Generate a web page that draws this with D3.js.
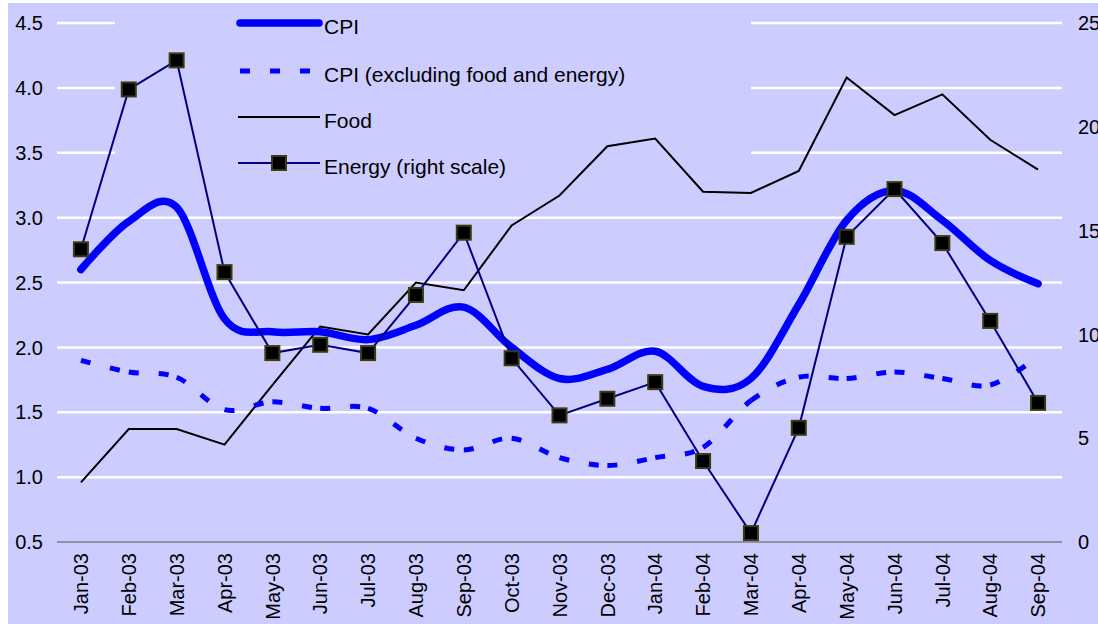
<!DOCTYPE html>
<html>
<head>
<meta charset="utf-8">
<script src="https://cdn.jsdelivr.net/npm/d3@7"></script>
<style>
  html, body { margin: 0; padding: 0; background: #ffffff; }
  svg { display: block; }
  text { font-family: "Liberation Sans", Arial, sans-serif; fill: #000; }
</style>
</head>
<body>
<svg id="chart" width="1098" height="624"></svg>
<script>
const months = ["Jan-03","Feb-03","Mar-03","Apr-03","May-03","Jun-03","Jul-03","Aug-03","Sep-03","Oct-03","Nov-03","Dec-03",
                "Jan-04","Feb-04","Mar-04","Apr-04","May-04","Jun-04","Jul-04","Aug-04","Sep-04"];
const cpi    = [2.60, 2.97, 3.08, 2.22, 2.12, 2.12, 2.06, 2.17, 2.31, 2.00, 1.76, 1.83, 1.97, 1.70, 1.76, 2.33, 2.98, 3.21, 2.98, 2.67, 2.49];
const core   = [1.90, 1.81, 1.77, 1.52, 1.58, 1.53, 1.53, 1.30, 1.21, 1.30, 1.15, 1.09, 1.15, 1.23, 1.59, 1.77, 1.76, 1.81, 1.76, 1.71, 1.93];
const food   = [0.96, 1.37, 1.37, 1.25, 1.71, 2.16, 2.10, 2.50, 2.44, 2.94, 3.17, 3.55, 3.61, 3.20, 3.19, 3.36, 4.08, 3.79, 3.95, 3.60, 3.37];
const energy = [14.1, 21.8, 23.2, 13.0, 9.1, 9.5, 9.1, 11.9, 14.9, 8.85, 6.1, 6.9, 7.7, 3.9, 0.43, 5.5, 14.7, 17.0, 14.4, 10.65, 6.7];
const leftTicks  = [0.5, 1.0, 1.5, 2.0, 2.5, 3.0, 3.5, 4.0, 4.5];
const rightTicks = [0, 5, 10, 15, 20, 25];
const legendLabels = ["CPI", "CPI (excluding food and energy)", "Food", "Energy (right scale)"];

const svg = d3.select("#chart");
const FONT = 20;

// background
svg.append("rect").attr("x", 8).attr("y", 3).attr("width", 1090).attr("height", 621).attr("fill", "#ccccff");

const x = d3.scaleBand().domain(months).range([57, 1062]);
const cx = d => x(d) + x.bandwidth() / 2;
const yL = d3.scaleLinear().domain([0.5, 4.5]).range([542, 23]);
const yR = d3.scaleLinear().domain([0, 25]).range([542, 23]);

// gridlines
svg.append("g").selectAll("line").data(leftTicks.filter(t => t > 0.5)).join("line")
  .attr("x1", 57).attr("x2", 1062)
  .attr("y1", d => yL(d)).attr("y2", d => yL(d))
  .attr("stroke", "#ffffff").attr("stroke-width", 2.5);

// legend background (covers gridlines, behind data)
svg.append("rect").attr("x", 115).attr("y", 5).attr("width", 636).attr("height", 182).attr("fill", "#ccccff");

// x axis line
svg.append("line").attr("x1", 57).attr("x2", 1062).attr("y1", yL(0.5)).attr("y2", yL(0.5))
  .attr("stroke", "#555555").attr("stroke-width", 1.2);

// left tick labels
svg.append("g").selectAll("text").data(leftTicks).join("text")
  .attr("x", 43).attr("y", d => yL(d)).attr("dy", "0.36em")
  .attr("text-anchor", "end").attr("font-size", FONT)
  .text(d => d3.format(".1f")(d));

// right tick labels
svg.append("g").selectAll("text").data(rightTicks).join("text")
  .attr("x", 1078).attr("y", d => yR(d)).attr("dy", "0.36em")
  .attr("text-anchor", "start").attr("font-size", FONT)
  .text(d => d);

// x tick labels
svg.append("g").selectAll("text").data(months).join("text")
  .attr("transform", d => `translate(${cx(d)},553) rotate(-90)`)
  .attr("dy", "0.36em").attr("text-anchor", "end").attr("font-size", FONT)
  .text(d => d);

const smooth = d3.curveCardinal.tension(0);

// Food
const lineFood = d3.line().x((d, i) => cx(months[i])).y(d => yL(d));
svg.append("path").attr("d", lineFood(food)).attr("fill", "none")
  .attr("stroke", "#000000").attr("stroke-width", 2).attr("stroke-linejoin", "miter");

// Core CPI: dashes restart at every data point (segment by segment)
const lineCore = d3.line().x((d, i) => cx(months[i])).y(d => yL(d)).curve(smooth);
const coreD = lineCore(core);
const cmds = coreD.match(/[MC][^MC]*/g);
let start = cmds[0].slice(1);
const coreSegs = [];
for (let k = 1; k < cmds.length; k++) {
  const nums = cmds[k].slice(1).split(/[ ,]+/).filter(s => s.length);
  coreSegs.push("M" + start + cmds[k]);
  start = nums[4] + "," + nums[5];
}
svg.append("g").selectAll("path").data(coreSegs).join("path")
  .attr("d", d => d).attr("fill", "none")
  .attr("stroke", "#0000ff").attr("stroke-width", 5)
  .attr("stroke-dasharray", "10,20");

// CPI
const lineCpi = d3.line().x((d, i) => cx(months[i])).y(d => yL(d)).curve(smooth);
svg.append("path").attr("d", lineCpi(cpi)).attr("fill", "none")
  .attr("stroke", "#0000ff").attr("stroke-width", 7.5).attr("stroke-linecap", "round");

// Energy
const lineEnergy = d3.line().x((d, i) => cx(months[i])).y(d => yR(d));
svg.append("path").attr("d", lineEnergy(energy)).attr("fill", "none")
  .attr("stroke", "#000080").attr("stroke-width", 2);
svg.append("g").selectAll("rect").data(energy).join("rect")
  .attr("x", (d, i) => cx(months[i]) - 7).attr("y", d => yR(d) - 7)
  .attr("width", 14).attr("height", 14)
  .attr("fill", "#000000").attr("stroke", "#3b3b0c").attr("stroke-width", 2);

// Legend
const lg = svg.append("g");
const ly = [23, 71, 117, 163];
lg.append("line").attr("x1", 240).attr("x2", 319).attr("y1", ly[0]).attr("y2", ly[0])
  .attr("stroke", "#0000ff").attr("stroke-width", 7.5).attr("stroke-linecap", "round");
lg.append("line").attr("x1", 240).attr("x2", 312).attr("y1", ly[1]).attr("y2", ly[1])
  .attr("stroke", "#0000ff").attr("stroke-width", 5).attr("stroke-dasharray", "10,20");
lg.append("line").attr("x1", 238).attr("x2", 320).attr("y1", ly[2]).attr("y2", ly[2])
  .attr("stroke", "#000000").attr("stroke-width", 2);
lg.append("line").attr("x1", 238).attr("x2", 320).attr("y1", ly[3]).attr("y2", ly[3])
  .attr("stroke", "#000080").attr("stroke-width", 2);
lg.append("rect").attr("x", 272).attr("y", ly[3] - 7).attr("width", 14).attr("height", 14)
  .attr("fill", "#000000").attr("stroke", "#3b3b0c").attr("stroke-width", 2);
lg.selectAll("text").data(legendLabels).join("text")
  .attr("x", 324).attr("y", (d, i) => ly[i] + 3).attr("dy", "0.36em")
  .attr("font-size", 21).text(d => d);
</script>
</body>
</html>
